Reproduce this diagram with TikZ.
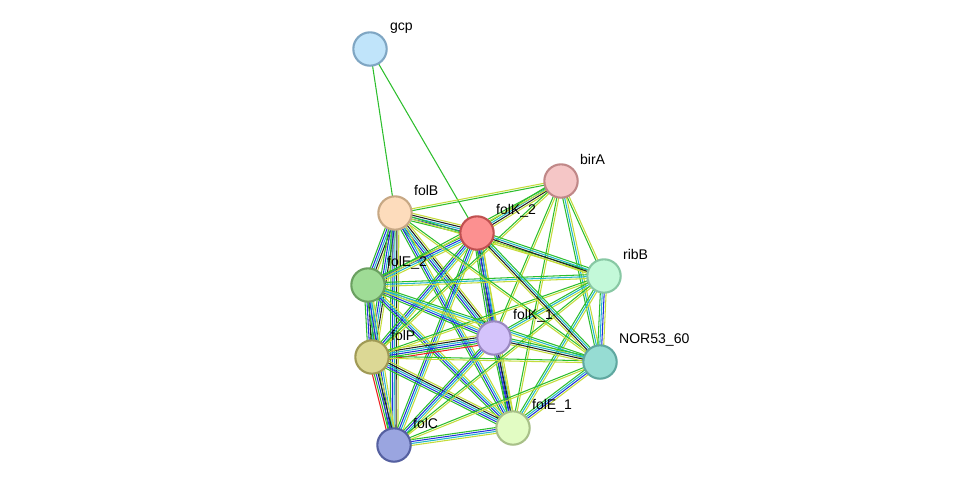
\documentclass[tikz,border=0pt]{standalone}
\usepackage{fontspec}
\setmainfont{Liberation Sans}
\usetikzlibrary{calc}
\definecolor{G}{HTML}{2DBE2D}
\definecolor{B}{HTML}{2233DD}
\definecolor{C}{HTML}{22B8C8}
\definecolor{Y}{HTML}{C4DC3A}
\definecolor{K}{HTML}{222222}
\definecolor{R}{HTML}{EE2222}
\newcommand\ed[4]{%
 \foreach \c [count=\i] in {#4}{%
  \pgfmathsetmacro\o{(\i-(#3+1)/2)*1.1}%
  \draw[\c,line width=0.6pt] ($(#1)!\o pt!90:(#2)$) -- ($(#2)!\o pt!-90:(#1)$);}}
\tikzset{prot/.style={circle,minimum size=19pt,inner sep=0pt,line width=1.2pt},
 lab/.style={font=\fontsize{8}{10}\selectfont,anchor=south west,inner sep=1pt}}
\begin{document}
\begin{tikzpicture}[x=0.02cm,y=-0.02cm]
\useasboundingbox (0,0) rectangle (976,491);
\coordinate (gcp) at (370,49);
\coordinate (folB) at (395,213);
\coordinate (folK2) at (477,233);
\coordinate (birA) at (561,181);
\coordinate (ribB) at (604,276);
\coordinate (folE2) at (368,285);
\coordinate (folK1) at (494,338);
\coordinate (NOR) at (600,362);
\coordinate (folP) at (372,357);
\coordinate (folE1) at (513,428);
\coordinate (folC) at (394,445);
% edges
\ed{gcp}{folB}{1}{G}
\ed{gcp}{folK2}{1}{G}
\ed{folB}{folK2}{5}{G,B,C,K,Y}
\ed{folB}{folE2}{5}{G,B,C,K,Y}
\ed{folB}{folP}{5}{G,B,C,K,Y}
\ed{folB}{folK1}{5}{G,B,C,K,Y}
\ed{folB}{folE1}{4}{G,B,C,Y}
\ed{folB}{folC}{5}{G,B,C,K,Y}
\ed{folK2}{folE2}{4}{G,B,C,Y}
\ed{folK2}{folP}{4}{G,B,C,Y}
\ed{folK2}{folK1}{5}{G,B,K,B,Y}
\ed{folK2}{folE1}{4}{G,B,C,Y}
\ed{folK2}{folC}{4}{G,B,C,Y}
\ed{folE2}{folP}{5}{G,B,K,C,Y}
\ed{folE2}{folK1}{4}{G,B,C,Y}
\ed{folE2}{folE1}{4}{G,B,C,Y}
\ed{folE2}{folC}{4}{G,B,C,Y}
\ed{folP}{folK1}{6}{R,G,B,C,K,Y}
\ed{folP}{folE1}{5}{G,B,C,K,Y}
\ed{folP}{folC}{5}{R,G,B,K,Y}
\ed{folK1}{folE1}{4}{G,B,K,Y}
\ed{folK1}{folC}{4}{G,B,C,Y}
\ed{folE1}{folC}{4}{G,B,C,Y}
\ed{birA}{folB}{2}{Y,G}
\ed{birA}{folK2}{4}{G,C,K,Y}
\ed{birA}{folE2}{2}{G,Y}
\ed{birA}{folP}{2}{G,Y}
\ed{birA}{folK1}{2}{G,Y}
\ed{birA}{folE1}{2}{G,Y}
\ed{birA}{ribB}{2}{G,Y}
\ed{birA}{NOR}{3}{G,C,Y}
\ed{ribB}{folB}{2}{G,Y}
\ed{ribB}{folK2}{4}{G,C,K,Y}
\ed{ribB}{folE2}{3}{G,C,Y}
\ed{ribB}{folP}{2}{G,Y}
\ed{ribB}{folK1}{3}{G,C,Y}
\ed{ribB}{folE1}{3}{G,C,Y}
\ed{ribB}{NOR}{4}{G,C,B,Y}
\ed{ribB}{folC}{2}{G,Y}
\ed{NOR}{folB}{2}{G,Y}
\ed{NOR}{folK2}{4}{G,C,K,Y}
\ed{NOR}{folE2}{3}{G,C,Y}
\ed{NOR}{folP}{2}{G,Y}
\ed{NOR}{folK1}{4}{G,C,K,Y}
\ed{NOR}{folE1}{4}{G,C,B,Y}
\ed{NOR}{folC}{2}{G,Y}
% nodes
\node[prot,fill={rgb,255:red,192;green,228;blue,250},draw={rgb,255:red,127;green,166;blue,195}] (n-gcp) at (gcp) {};
\node[prot,fill={rgb,255:red,253;green,220;blue,188},draw={rgb,255:red,199;green,168;blue,132}] (n-folB) at (folB) {};
\node[prot,fill={rgb,255:red,252;green,144;blue,144},draw={rgb,255:red,192;green,80;blue,80}] (n-folK2) at (folK2) {};
\node[prot,fill={rgb,255:red,245;green,198;blue,198},draw={rgb,255:red,192;green,136;blue,136}] (n-birA) at (birA) {};
\node[prot,fill={rgb,255:red,195;green,249;blue,217},draw={rgb,255:red,136;green,200;blue,164}] (n-ribB) at (ribB) {};
\node[prot,fill={rgb,255:red,159;green,220;blue,150},draw={rgb,255:red,106;green,160;blue,96}] (n-folE2) at (folE2) {};
\node[prot,fill={rgb,255:red,212;green,195;blue,251},draw={rgb,255:red,154;green,136;blue,192}] (n-folK1) at (folK1) {};
\node[prot,fill={rgb,255:red,150;green,220;blue,211},draw={rgb,255:red,95;green,168;blue,160}] (n-NOR) at (NOR) {};
\node[prot,fill={rgb,255:red,220;green,216;blue,149},draw={rgb,255:red,160;green,154;blue,85}] (n-folP) at (folP) {};
\node[prot,fill={rgb,255:red,226;green,252;blue,195},draw={rgb,255:red,168;green,192;blue,136}] (n-folE1) at (folE1) {};
\node[prot,fill={rgb,255:red,154;green,165;blue,224},draw={rgb,255:red,85;green,96;blue,160}] (n-folC) at (folC) {};
% labels
\node[lab] (l1) at (388,36) {gcp};
\node[lab] (l2) at (412,198) {folB};
\node[lab] (l3) at (494,219) {folK\_2};
\node[lab] (l4) at (578,167) {birA};
\node[lab] (l5) at (621,262) {ribB};
\node[lab] (l6) at (385,271) {folE\_2};
\node[lab] (l7) at (511,324) {folK\_1};
\node[lab] (l8) at (617,348) {NOR53\_60};
\node[lab] (l9) at (389,343) {folP};
\node[lab] (l10) at (530,414) {folE\_1};
\node[lab] (l11) at (411,431) {folC};
\end{tikzpicture}
\end{document}
